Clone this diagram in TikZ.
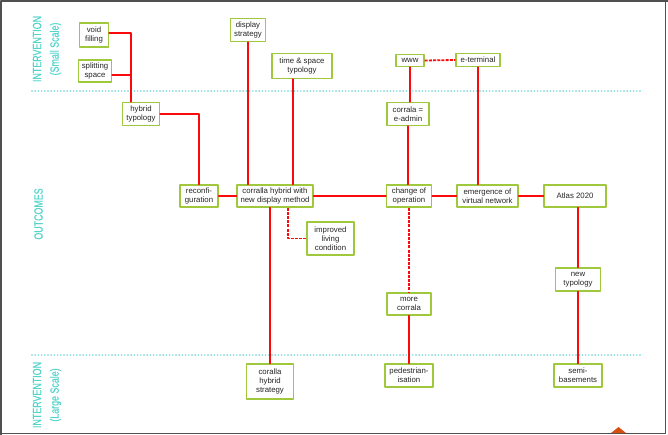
\documentclass[tikz,border=0pt]{standalone}
\usepackage{fontspec}
\setmainfont{Liberation Sans}
\newfontfamily\condfont[FakeStretch=0.74,FakeBold=0.6]{Liberation Sans}
\definecolor{zonecyan}{RGB}{86,212,204}
\definecolor{leaf}{RGB}{160,200,60}
\definecolor{linkred}{RGB}{250,10,10}
\definecolor{frame}{RGB}{80,80,80}
\definecolor{marker}{RGB}{214,78,18}

\begin{document}
\begin{tikzpicture}[x=1pt, y=-1pt, line cap=round, line join=round]

% --- Global TikZ Styles for Consistency ---
\tikzset{
    box/.style={
        draw=leaf,
        line width=1.3pt,
        fill=white,
        align=center,
        inner sep=1pt,
        minimum height=22pt,
        text=black!85,
        font=\fontsize{7.8}{9}\selectfont
    },
    link/.style={
        draw=linkred,
        line width=1.6pt
    },
    weaklink/.style={
        draw=linkred,
        line width=1.8pt,
        line cap=butt,
        dash pattern=on 3pt off 1.2pt
    },
    zone/.style={
        draw=zonecyan,
        line width=1.6pt,
        dash pattern=on 0pt off 3.2pt
    },
    zonelabel/.style={
        text=zonecyan,
        rotate=90,
        align=center,
        font=\condfont\fontsize{12}{17.5}\selectfont
    }
}

\useasboundingbox (0,0) rectangle (668,435);

% =========================================================================
% --- Screen frame ---
% =========================================================================
\draw[frame, line width=2pt] (1,435) -- (1,1) -- (668,1);
\draw[frame, line width=1pt] (665.5,1) -- (665.5,433.5) -- (0,433.5);
\fill[marker] (611,433) -- (618.5,427) -- (626,433) -- cycle;

% --- Zone separators ---
\draw[zone] (32,91) -- (640,91);
\draw[zone] (32,355) -- (640,355);

\node[zonelabel] (smallscale) at (47,49) {INTERVENTION\\(Small Scale)};
\node[zonelabel] (outcomes) at (38.5,214) {OUTCOMES};
\node[zonelabel] (largescale) at (47,395) {INTERVENTION\\(Large Scale)};

% =========================================================================
% --- Small scale interventions ---
% =========================================================================
\node[box, minimum width=29pt, minimum height=24pt] (void) at (94,35) {void\\filling};
\node[box, minimum width=33pt] (split) at (95,71) {splitting\\space};
\node[box, minimum width=35pt, minimum height=23pt] (display) at (248,30) {display\\strategy};
\node[box, minimum width=60pt, minimum height=25pt] (timespace) at (302,66) {time \& space\\typology};
\node[box, minimum width=28pt, minimum height=12pt] (www) at (410,60.5) {www};
\node[box, minimum width=44pt, minimum height=13pt] (eterminal) at (478,60) {e-terminal};

% --- Outcomes ---
\node[box, minimum width=37pt, minimum height=23pt] (hybrid) at (141,114) {hybrid\\typology};
\node[box, minimum width=42pt, minimum height=23pt] (eadmin) at (408,114) {corrala =\\e-admin};
\node[box, minimum width=38pt] (reconfig) at (199,196) {reconfi-\\guration};
\node[box, minimum width=76pt] (hybridmethod) at (275,196) {corralla hybrid with\\new display method};
\node[box, minimum width=45pt] (change) at (409,196) {change of\\operation};
\node[box, minimum width=61pt] (emergence) at (487.5,196) {emergence of\\virtual network};
\node[box, minimum width=62pt] (atlas) at (575,196) {Atlas 2020};
\node[box, minimum width=47pt, minimum height=33pt] (improved) at (330.5,238.5) {improved\\living\\condition};
\node[box, minimum width=45pt, minimum height=23pt] (newtypology) at (578,279.5) {new\\typology};
\node[box, minimum width=44pt] (morecorrala) at (409,304) {more\\corrala};

% --- Large scale interventions ---
\node[box, minimum width=47pt, minimum height=35pt] (strategy) at (270,381.5) {coralla\\hybrid\\strategy};
\node[box, minimum width=48pt, minimum height=23pt] (pedestrian) at (409,375.5) {pedestrian-\\isation};
\node[box, minimum width=48pt, minimum height=23pt] (semibase) at (578,375.5) {semi-\\basements};

% =========================================================================
% --- Connectors ---
% =========================================================================
\coordinate (hybridjoin) at ([xshift=-10pt]hybrid.north);
\draw[link] ([yshift=2pt]void.east) -| (hybridjoin);
\draw[link] ([yshift=-4pt]split.east) -- ([yshift=-4pt]split.east -| hybridjoin);
\draw[link] (hybrid.east) -| (reconfig.north);

\draw[link] (display.south) -- (display.south |- hybridmethod.north);
\draw[link] ([xshift=-9pt]timespace.south) -- ([xshift=-9pt]timespace.south |- hybridmethod.north);
\draw[link] (hybridmethod.south -| strategy.north) -- (strategy.north);
\draw[weaklink] ([xshift=13pt]hybridmethod.south) |- (improved.west);

\draw[link] (reconfig) -- (hybridmethod);
\draw[link] (hybridmethod) -- (change);
\draw[link] (change) -- (emergence);
\draw[link] (emergence) -- (atlas);

\draw[weaklink] (www.east) -- (eterminal.west);
\draw[link] (www.south) -- (www.south |- eadmin.north);
\draw[link] (eadmin.south) -- (eadmin.south |- change.north);
\draw[link] (eterminal.south) -- (eterminal.south |- emergence.north);

\draw[weaklink] (change.south) -- (change.south |- morecorrala.north);
\draw[link] (morecorrala.south) -- (pedestrian.north);

\draw[link] (atlas.south -| newtypology.north) -- (newtypology.north);
\draw[link] (newtypology.south) -- (semibase.north);

\end{tikzpicture}
\end{document}
